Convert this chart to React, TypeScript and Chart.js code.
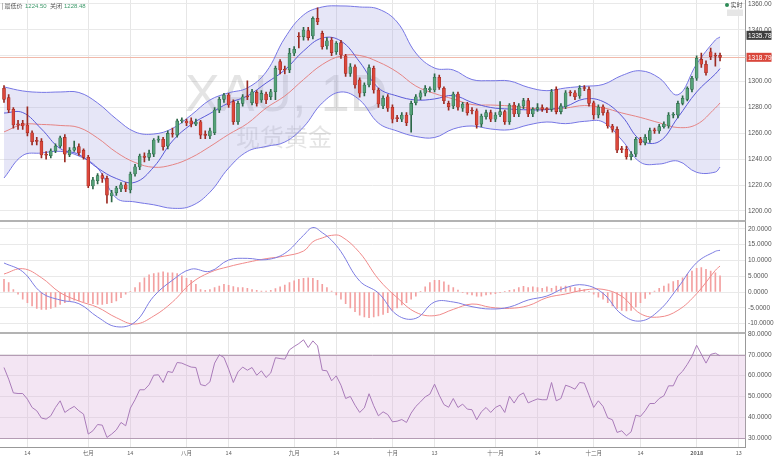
import React, { useEffect, useRef } from 'react';
import { Chart, registerables } from 'chart.js';

Chart.register(...registerables);

// ---------- price candles (one per trading day) ----------
const opens = [
  1294.8,1287.6,1278.6,1267.0,1267.8,1266.5,1260.5,1254.2,1254.0,1243.5,
  1242.7,1246.4,1250.2,1256.9,1243.4,1247.0,1249.7,1247.0,1241.5,1219.3,
  1223.4,1227.3,1225.2,1211.6,1214.0,1217.0,1220.3,1216.2,1228.6,1234.0,
  1242.5,1241.5,1244.0,1254.8,1255.4,1250.2,1259.8,1258.7,1269.6,1269.5,
  1269.6,1267.2,1269.0,1258.9,1258.0,1260.5,1278.0,1286.3,1289.6,1284.5,
  1269.0,1283.2,1288.5,1283.7,1291.7,1285.8,1290.4,1288.3,1292.2,1315.4,
  1309.3,1309.0,1321.9,1335.0,1334.7,1339.4,1335.3,1348.9,1337.3,1327.5,
  1332.2,1323.1,1330.1,1319.8,1306.4,1311.5,1301.3,1291.4,1297.4,1310.3,
  1293.5,1281.2,1288.3,1280.2,1271.8,1270.9,1274.2,1274.2,1283.7,1287.9,
  1291.0,1293.8,1293.5,1303.3,1294.8,1283.2,1281.2,1290.4,1279.4,1282.7,
  1277.7,1277.5,1267.2,1272.9,1276.0,1270.9,1274.2,1276.8,1269.0,1281.9,
  1275.0,1281.2,1285.3,1275.0,1278.6,1280.0,1278.8,1278.6,1294.0,1276.8,
  1280.6,1291.6,1291.4,1288.9,1295.1,1294.0,1283.7,1274.2,1280.6,1276.0,
  1265.7,1263.1,1247.9,1247.7,1242.0,1244.0,1255.4,1252.8,1254.9,1262.3,
  1261.8,1265.2,1265.7,1274.0,1274.2,1283.2,1286.3,1294.0,1302.6,1317.2,
  1313.4,1323.1,1320.0,1320.3
];
const closes = [
  1286.3,1278.1,1266.5,1266.6,1265.7,1260.5,1253.5,1253.8,1243.3,1243.1,
  1246.6,1250.2,1256.6,1244.0,1247.0,1249.0,1245.0,1241.5,1219.3,1224.0,
  1227.3,1225.2,1212.3,1214.1,1217.8,1220.3,1217.0,1228.6,1234.2,1242.5,
  1241.5,1244.6,1254.8,1255.2,1249.7,1260.0,1259.3,1269.6,1270.2,1268.0,
  1267.2,1268.8,1258.7,1258.5,1262.0,1278.0,1286.3,1289.6,1281.9,1269.0,
  1283.2,1288.3,1288.1,1292.2,1283.2,1290.9,1285.8,1292.2,1310.3,1309.0,
  1309.0,1321.9,1325.0,1334.5,1339.9,1334.0,1348.9,1346.3,1327.0,1331.6,
  1322.4,1329.6,1320.6,1306.4,1311.5,1297.4,1291.0,1297.4,1310.8,1293.5,
  1282.7,1287.1,1279.4,1270.9,1271.4,1274.2,1268.2,1283.2,1288.3,1291.4,
  1294.9,1294.4,1303.3,1295.6,1285.2,1280.6,1290.4,1280.2,1282.7,1276.0,
  1277.3,1266.5,1273.4,1276.0,1270.9,1274.2,1276.8,1269.0,1281.9,1275.0,
  1281.2,1285.3,1275.0,1278.6,1279.9,1278.6,1278.4,1292.2,1276.8,1281.2,
  1291.4,1291.2,1288.3,1294.9,1294.7,1283.2,1274.2,1280.2,1276.0,1265.7,
  1263.1,1247.1,1247.5,1242.0,1244.0,1255.4,1252.8,1257.0,1262.1,1261.9,
  1265.2,1267.2,1274.2,1274.4,1283.2,1287.1,1294.9,1302.6,1318.0,1313.4,
  1306.9,1319.3,1319.6,1318.8
];
const highs = [
  1297,1290,1280,1270,1270,1280.6,1262,1257,1256,1246,
  1248,1252,1258,1259,1249,1254,1252,1248,1243,1226,
  1229,1229,1227,1216,1219,1222,1222,1230,1236,1244,
  1245,1247,1256,1258,1257,1262,1264,1271,1272,1271,
  1272,1271,1270,1262,1264,1280,1288,1291,1291,1286,
  1285,1290,1300.7,1294,1293,1293,1292,1294,1312,1317,
  1312,1325.7,1327,1338,1342,1342,1350,1357,1339,1334,
  1334,1331,1332,1321,1314,1313,1303,1299,1313,1312,
  1295,1289,1290,1282,1274,1276,1276,1285,1290,1293,
  1297,1296,1306,1305,1296,1285,1292,1292,1284,1284,
  1280,1279,1275,1278,1278,1276,1284.5,1278,1283,1284,
  1283,1287,1287,1280,1283,1282,1280,1294,1296,1283,
  1293,1293,1293,1297,1297,1296,1285,1282,1282,1278,
  1267,1265,1250,1250,1246,1257,1257,1259,1264,1264,
  1267,1269,1276,1276,1285,1289,1296,1304,1320,1322,
  1316,1326,1322,1322
];
const lows = [
  1284,1276,1264,1263,1263,1258,1251,1251,1241,1240,
  1241,1245,1249,1238,1242,1246,1243,1240,1218,1217,
  1221,1222,1206,1207,1212,1215,1215,1214,1227,1232,
  1238,1239,1242,1253,1247,1248,1257,1257,1268,1266,
  1265,1266,1256,1256,1256,1259,1276,1284,1280,1267,
  1267,1281,1286,1282,1281,1284,1283,1286,1286,1306,
  1306,1307,1320,1326,1332,1332,1333,1344,1325,1325,
  1320,1321,1318,1304,1304,1295,1288,1289,1296,1291,
  1280,1279,1277,1268,1269,1269,1266,1261,1282,1286,
  1289,1292,1292,1294,1283,1278,1279,1278,1277,1274,
  1275,1264,1265,1271,1269,1269,1273,1267,1267,1273,
  1273,1279,1273,1273,1277,1277,1276,1277,1275,1275,
  1279,1289,1286,1287,1293,1281,1271,1272,1274,1264,
  1261,1245,1245,1240,1239.4,1242,1251,1251,1253,1260,
  1260,1264,1264,1272,1272,1282,1285,1292,1301,1311,
  1305,1317,1312,1316
];

// ---------- overlay lines, read at these candle indices ----------
const lineIdx = [0,4,8,12,16,20,24,28,32,36,40,44,48,52,56,60,64,68,72,76,80,84,88,92,96,100,104,108,112,116,120,124,128,132,136,140,144,148,152,153];
const bbUpper = [1295.9,1292.8,1291.7,1292,1291.6,1283.5,1271.1,1261.1,1259.5,1263.8,1274.2,1285.8,1291.3,1295.1,1307.4,1333.7,1351.5,1357.7,1358.5,1357.7,1356.1,1346.1,1322.1,1310.5,1309,1301.6,1300.7,1300.5,1295.6,1293,1295.1,1296.4,1297.8,1304.7,1308.4,1302.8,1289.8,1313.6,1332.2,1334.5];
const bbLower = [1225.5,1242.9,1244.8,1246.1,1242.5,1233.2,1210.0,1207.0,1204.8,1202.1,1203.9,1214.5,1233.2,1246,1249.9,1253.3,1264.9,1283.5,1292,1285.8,1268,1261.8,1257.6,1256.8,1263.4,1265.7,1263.4,1262.8,1266.5,1268.8,1267.5,1269.3,1268.8,1254.9,1237.6,1236.3,1238.6,1229.9,1230.1,1234];
const maFast = [1275.7,1276.1,1263.4,1248.3,1243.7,1233.2,1225.1,1222.2,1234,1254.1,1266.9,1275.3,1283.5,1288.9,1298.9,1309,1323.7,1333.7,1331.4,1315.2,1295.1,1288.9,1285.8,1286.6,1289.3,1283.9,1280,1278.8,1278.2,1278.4,1280.8,1286.6,1284.6,1273.4,1254.9,1253.7,1272.3,1292,1305.9,1310.1];
const maSlow = [1261.1,1266.9,1266.9,1266.1,1264.5,1256.4,1245.4,1237.5,1233.8,1235.7,1241.3,1249.8,1259.2,1267.6,1279.6,1288.9,1301.6,1313.2,1319.8,1320.2,1315.2,1307.4,1296.6,1290.8,1286.6,1282.3,1281.9,1281.2,1279.6,1278.8,1279.6,1281.5,1279.8,1275.8,1272.3,1268.2,1264.5,1266.9,1279.6,1283.5];

// ---------- MACD ----------
const macdIdx = [0,4,8,12,16,20,24,28,32,36,40,44,48,52,56,60,64,66,68,70,72,76,80,84,88,92,96,100,104,108,112,116,120,124,128,132,136,140,144,148,152,153];
const macdDif = [9.18,6.43,-0.21,-2.53,-3.69,-7.91,-10.97,-9.49,-1.37,3.74,7.24,6.54,10.13,10.65,10.23,12.24,17.93,20.4,18.78,16.35,12.76,3.48,-0.32,-7.28,-8.33,-3.16,-3.16,-4.64,-5.38,-4.75,-2.53,-1.27,1.37,2.22,-0.42,-7.07,-9.18,-5.80,1.37,9.28,12.87,13.19];
const macdDea = [5.70,7.38,4.54,-0.21,-2.85,-4.85,-8.12,-10.13,-7.6,-3.16,2.8,6.22,8.02,9.39,10.55,11.39,12.97,15.9,17.1,17.93,17.65,12.45,4.11,-1.79,-6.43,-7.49,-5.49,-3.80,-4.85,-5.17,-4.32,-1.79,-0.63,0.63,0.84,-1.37,-6.86,-7.91,-5.80,-0.53,6.86,8.23];
const macdHist = [
  4.0,3.0,0.8,-0.7,-2.3,-3.4,-4.4,-5.2,-5.5,-5.5,
  -5.2,-4.7,-3.9,-3.4,-2.8,-2.6,-2.8,-3.1,-3.4,-3.7,
  -3.9,-3.9,-3.7,-3.4,-2.8,-1.8,-0.7,0.1,1.4,3.0,
  4.5,5.4,5.8,6.1,6.4,6.1,6.1,5.8,5.1,4.3,
  3.7,2.4,0.8,0.5,0.8,1.4,1.9,2.4,2.1,1.7,
  1.4,1.4,1.2,0.8,0.5,0.3,0.3,0.5,1.1,1.6,
  2.2,3.0,3.5,4.0,4.3,4.5,4.3,3.7,2.4,1.4,
  0.3,-0.9,-2.3,-3.7,-5.0,-6.2,-7.3,-7.9,-8.1,-7.9,
  -7.6,-7.1,-6.5,-5.8,-5.0,-4.1,-3.4,-2.3,-1.3,0.1,
  1.6,3.0,3.7,3.7,3.2,2.2,1.4,0.6,-0.2,-0.7,
  -0.9,-1.3,-1.3,-0.9,-0.7,-0.5,-0.2,0.1,0.5,0.8,
  1.4,1.8,1.4,1.6,1.4,1.2,1.6,1.2,1.9,1.6,
  1.9,1.6,1.4,1.2,0.8,0.1,-0.7,-1.6,-2.3,-3.4,
  -4.4,-5.2,-5.8,-6.0,-5.8,-4.7,-3.4,-2.0,-0.7,0.3,
  1.2,1.9,2.6,3.3,3.7,4.5,5.6,6.6,7.5,7.7,
  7.2,6.6,6.1,5.1
];

// ---------- RSI ----------
const rsi = [
  63.9,58.3,51.7,51.4,51.4,48.7,44.7,43.1,39.6,39.1,
  40.7,44.7,47.9,42.3,43.9,45.2,43.1,41.5,31.9,33.5,
  36.5,36.2,30.3,31.9,33.9,37.5,35.9,44.4,48.4,53.2,
  53.2,55.6,60.2,60.4,56.7,62.0,61.5,66.3,66.0,65.0,
  64.1,63.9,55.7,55.1,57.0,66.0,70.0,68.7,63.1,56.7,
  61.8,64.1,62.6,63.9,60.2,62.3,59.1,61.3,68.6,68.2,
  67.9,72.4,74.0,75.4,77.2,73.5,76.7,74.3,62.6,62.3,
  57.5,59.9,55.4,49.0,50.0,45.8,42.3,44.5,51.3,45.5,
  40.7,42.6,41.3,37.8,38.1,38.9,37.5,42.0,45.2,47.4,
  49.8,51.1,55.9,50.6,46.1,44.8,49.0,44.7,46.3,43.9,
  43.6,38.8,42.6,44.7,42.3,44.7,45.8,42.3,50.1,46.8,
  50.4,51.7,46.9,47.9,48.8,48.4,48.4,56.7,47.9,49.0,
  55.4,54.6,53.5,56.7,56.4,50.6,44.7,47.9,45.2,39.7,
  38.8,32.7,33.5,31.1,33.0,41.0,40.4,43.1,46.6,46.6,
  49.0,50.3,55.1,55.1,59.9,62.1,65.4,69.2,74.6,70.3,
  66.0,70.2,70.8,69.5
];
const rsiBand = [30, 70];

// ---------- axes ----------
const xTickIdx = [5, 18, 27, 39, 48, 62, 71, 83, 92, 105, 114, 126, 136, 148, 157];
const xTickLabels = ['14', '七月', '14', '八月', '14', '九月', '14', '十月', '13', '十一月', '14', '十二月', '14', '2018', '13'];
const priceTicks = [1200, 1220, 1240, 1260, 1280, 1300, 1320, 1340, 1360];
const macdTicks = [-10, -5, 0, 5, 10, 15, 20];
const rsiTicks = [30, 40, 50, 60, 70, 80];
const priceTags = [1335.78, 1318.79];
const headerLow = '1224.50';
const headerClose = '1228.48';

const FONT = '"Liberation Sans", Arial, "Noto Sans CJK SC", sans-serif';
const CJK = '"Noto Sans CJK SC", "Liberation Sans", sans-serif';

export default function App() {
  const ref = useRef<HTMLCanvasElement>(null);

  useEffect(() => {
    const canvas = ref.current;
    if (!canvas) return;
    const idx = opens.map((_, i) => i);
    const up = (i: number) => closes[i] >= opens[i];
    const bodyFill = idx.map((i) => (up(i) ? '#55a178' : '#dc473b'));
    const bodyEdge = idx.map((i) => (up(i) ? '#2d6848' : '#9b2a22'));
    const pts = (xs: number[], ys: number[]) => xs.map((x, k) => ({ x, y: ys[k] }));

    const bgPlugin = {
      id: 'bgLayer',
      beforeDatasetsDraw(chart: any) {
        const { ctx, chartArea: a, scales } = chart;
        ctx.save();
        ctx.fillStyle = 'rgba(150,150,150,0.26)';
        ctx.textBaseline = 'alphabetic';
        ctx.font = `52px ${FONT}`;
        ctx.fillText('XAU, 1D', 185, 111);
        ctx.font = `24px ${CJK}`;
        ctx.fillText('现货黄金', 236, 146);
        const py = scales.y.getPixelForValue(priceTags[1]);
        ctx.strokeStyle = '#f1b9aa';
        ctx.lineWidth = 1;
        ctx.beginPath();
        ctx.moveTo(a.left, Math.round(py) + 0.5);
        ctx.lineTo(a.right, Math.round(py) + 0.5);
        ctx.stroke();
        const r = scales.yR;
        const yT = r.getPixelForValue(rsiBand[1]);
        const yB = r.getPixelForValue(rsiBand[0]);
        ctx.fillStyle = 'rgba(220,180,220,0.35)';
        ctx.fillRect(a.left, yT, a.right - a.left, yB - yT);
        ctx.strokeStyle = '#b49cb4';
        ctx.beginPath();
        ctx.moveTo(a.left, Math.round(yT) + 0.5);
        ctx.lineTo(a.right, Math.round(yT) + 0.5);
        ctx.moveTo(a.left, Math.round(yB) + 0.5);
        ctx.lineTo(a.right, Math.round(yB) + 0.5);
        ctx.stroke();
        ctx.restore();
      },
    };

    const fgPlugin = {
      id: 'fgLayer',
      afterDatasetsDraw(chart: any) {
        const { ctx, chartArea: a, scales } = chart;
        ctx.save();
        ctx.strokeStyle = '#b3b3b3';
        ctx.lineWidth = 2;
        [scales.yM.top, scales.yR.top].forEach((t: number) => {
          ctx.beginPath();
          ctx.moveTo(a.left, t);
          ctx.lineTo(a.right, t);
          ctx.stroke();
        });
        ctx.restore();
      },
      afterDraw(chart: any) {
        const { ctx, chartArea: a, scales } = chart;
        ctx.save();
        const tagColors = ['#3d3d3d', '#d9463b'];
        priceTags.forEach((v, k) => {
          const y = scales.y.getPixelForValue(v);
          ctx.fillStyle = tagColors[k];
          ctx.fillRect(a.right + 1, y - 4.5, 25, 9);
          ctx.fillStyle = '#ffffff';
          ctx.font = `6.5px ${FONT}`;
          ctx.textBaseline = 'middle';
          ctx.textAlign = 'left';
          ctx.fillText(v.toFixed(2), a.right + 2.5, y + 0.5);
        });
        ctx.textBaseline = 'middle';
        ctx.textAlign = 'left';
        ctx.font = `6px ${CJK}`;
        ctx.fillStyle = '#555';
        ctx.fillText('| 最低价', 1.5, 6);
        ctx.fillStyle = '#3f9a6b';
        ctx.font = `6px ${FONT}`;
        ctx.fillText(headerLow, 25, 6);
        ctx.fillStyle = '#555';
        ctx.font = `6px ${CJK}`;
        ctx.fillText('关闭', 50, 6);
        ctx.fillStyle = '#3f9a6b';
        ctx.font = `6px ${FONT}`;
        ctx.fillText(headerClose, 64, 6);
        ctx.fillStyle = '#2e8b57';
        ctx.beginPath();
        ctx.arc(727, 5, 2, 0, Math.PI * 2);
        ctx.fill();
        ctx.fillStyle = '#555';
        ctx.font = `6px ${CJK}`;
        ctx.fillText('实时', 730.5, 5);
        ctx.fillStyle = '#e6e6e6';
        ctx.fillRect(727, 9.5, 16, 6.5);
        ctx.restore();
      },
    };

    const yCommon = (weight: number, min: number, max: number, ticks: number[], dec: number) => ({
      type: 'linear',
      position: 'right',
      stack: 'panes',
      stackWeight: weight,
      min,
      max,
      beginAtZero: false,
      grid: { color: '#e9e9e9', drawTicks: false },
      border: { color: '#999999' },
      ticks: {
        color: '#555',
        padding: 2.5,
        autoSkip: false,
        font: { size: 6.5, family: FONT },
        callback: (v: any) => Number(v).toFixed(dec),
      },
      afterBuildTicks: (s: any) => {
        s.ticks = ticks.map((value) => ({ value }));
      },
      afterFit: (s: any) => {
        s.width = 33.5;
        s.paddingTop = 0;
        s.paddingBottom = 0;
      },
    });

    const chart = new Chart(canvas, {
      type: 'bar',
      data: {
        datasets: [
          {
            type: 'line', label: 'bbUpper', data: pts(lineIdx, bbUpper), yAxisID: 'y',
            borderColor: '#7676e4', borderWidth: 1, pointRadius: 0, tension: 0.4,
            fill: '+1', backgroundColor: 'rgba(165,165,225,0.28)', order: 20,
          },
          {
            type: 'line', label: 'bbLower', data: pts(lineIdx, bbLower), yAxisID: 'y',
            borderColor: '#7676e4', borderWidth: 1, pointRadius: 0, tension: 0.4, fill: false, order: 19,
          },
          {
            type: 'line', label: 'maSlow', data: pts(lineIdx, maSlow), yAxisID: 'y',
            borderColor: '#e58484', borderWidth: 1, pointRadius: 0, tension: 0.4, fill: false, order: 18,
          },
          {
            type: 'line', label: 'maFast', data: pts(lineIdx, maFast), yAxisID: 'y',
            borderColor: '#5a5ad8', borderWidth: 1, pointRadius: 0, tension: 0.4, fill: false, order: 17,
          },
          {
            type: 'bar', label: 'wick', data: idx.map((i) => ({ x: i, y: [lows[i], highs[i]] })), yAxisID: 'y',
            backgroundColor: bodyEdge, barThickness: 1, grouped: false, order: 2,
          },
          {
            type: 'bar', label: 'body', data: idx.map((i) => ({ x: i, y: [opens[i], closes[i]] })), yAxisID: 'y',
            backgroundColor: bodyFill, borderColor: bodyEdge, borderWidth: 0.6, borderSkipped: false,
            barThickness: 3, minBarLength: 1, grouped: false, order: 1,
          },
          {
            type: 'bar', label: 'hist', data: idx.map((i) => ({ x: i, y: macdHist[i] })), yAxisID: 'yM',
            backgroundColor: '#f3a0a0', barThickness: 1, grouped: false, order: 8,
          },
          {
            type: 'line', label: 'dea', data: pts(macdIdx, macdDea), yAxisID: 'yM',
            borderColor: '#f08a8a', borderWidth: 1, pointRadius: 0, tension: 0.4, fill: false, order: 7,
          },
          {
            type: 'line', label: 'dif', data: pts(macdIdx, macdDif), yAxisID: 'yM',
            borderColor: '#7d7de2', borderWidth: 1, pointRadius: 0, tension: 0.4, fill: false, order: 6,
          },
          {
            type: 'line', label: 'rsi', data: idx.map((i) => ({ x: i, y: rsi[i] })), yAxisID: 'yR',
            borderColor: '#a97bb9', borderWidth: 1, pointRadius: 0, tension: 0, fill: false, order: 5,
          },
        ] as any,
      },
      options: {
        animation: false,
        responsive: false,
        maintainAspectRatio: false,
        events: [],
        layout: { padding: 0 },
        plugins: { legend: { display: false }, tooltip: { enabled: false }, title: { display: false } },
        scales: {
          x: {
            type: 'linear',
            position: 'bottom',
            min: -0.855,
            max: 158.44,
            offset: false,
            grid: { color: '#e6e6e6', drawTicks: false, offset: false },
            border: { color: '#999999' },
            ticks: {
              autoSkip: false,
              maxRotation: 0,
              minRotation: 0,
              padding: 3,
              color: '#666',
              font: (c: any) => ({ size: 5.5, family: CJK, weight: xTickLabels[c.index] === '2018' ? 'bold' : 'normal' }),
              callback: (_v: any, i: number) => xTickLabels[i] ?? '',
            },
            afterBuildTicks: (s: any) => {
              s.ticks = xTickIdx.map((value) => ({ value }));
            },
            afterFit: (s: any) => {
              s.height = 15;
              s.paddingLeft = 0;
              s.paddingRight = 0;
            },
          },
          y: yCommon(221, 1192.27, 1363.09, priceTicks, 2),
          yM: yCommon(112, -12.97, 22.47, macdTicks, 4),
          yR: yCommon(114, 25.7, 80.48, rsiTicks, 4),
        } as any,
      },
      plugins: [bgPlugin, fgPlugin],
    } as any);

    return () => chart.destroy();
  }, []);

  return (
    <div style={{ position: 'absolute', left: 0, top: 0, width: 779, height: 462, background: '#ffffff' }}>
      <canvas ref={ref} width={779} height={462} style={{ display: 'block' }} />
    </div>
  );
}
